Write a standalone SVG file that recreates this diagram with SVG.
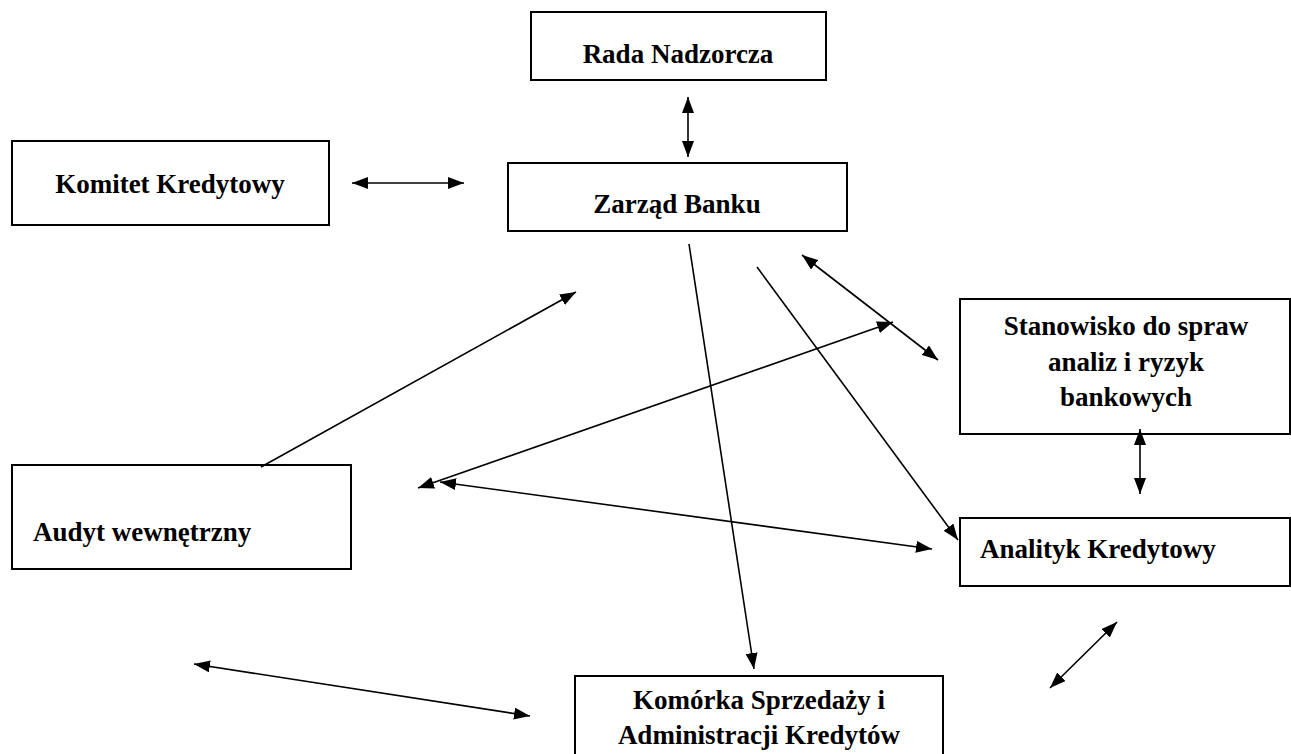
<svg xmlns="http://www.w3.org/2000/svg" width="1291" height="754" viewBox="0 0 1291 754">
<style>
.box{fill:#fff;stroke:#000;stroke-width:2}
.t{font-family:"Liberation Serif","Times New Roman",serif;font-weight:bold;font-size:27px;fill:#000}
.c{text-anchor:middle}
.ln{stroke:#000;stroke-width:1.6;fill:none}
.e{marker-end:url(#ah)}
.b{marker-start:url(#ahs);marker-end:url(#ah)}
</style>
<defs>
<marker id="ah" viewBox="0 0 16 12" refX="16" refY="6" markerWidth="16" markerHeight="12" markerUnits="userSpaceOnUse" orient="auto">
<path d="M0,0 L16,6 L0,12 z" fill="#000"/>
</marker>
<marker id="ahs" viewBox="0 0 16 12" refX="0" refY="6" markerWidth="16" markerHeight="12" markerUnits="userSpaceOnUse" orient="auto">
<path d="M16,0 L0,6 L16,12 z" fill="#000"/>
</marker>
</defs>
<rect width="1291" height="754" fill="#fff"/>
<g id="rada">
<rect class="box" x="531" y="12" width="295" height="68"/>
<text class="t c" x="678" y="63">Rada Nadzorcza</text>
</g>
<g id="komitet">
<rect class="box" x="12" y="141" width="317" height="84"/>
<text class="t c" x="170" y="193">Komitet Kredytowy</text>
</g>
<g id="zarzad">
<rect class="box" x="508" y="163" width="339" height="68"/>
<text class="t c" x="677" y="213">Zarząd Banku</text>
</g>
<g id="stanowisko">
<rect class="box" x="960" y="299" width="330" height="135"/>
<text class="t c" x="1126" y="335">Stanowisko do spraw</text>
<text class="t c" x="1126" y="371">analiz i ryzyk</text>
<text class="t c" x="1126" y="406">bankowych</text>
</g>
<g id="audyt">
<rect class="box" x="12" y="465" width="339" height="104"/>
<text class="t" x="33" y="541">Audyt wewnętrzny</text>
</g>
<g id="analityk">
<rect class="box" x="960" y="518" width="330" height="68"/>
<text class="t" x="980" y="558">Analityk Kredytowy</text>
</g>
<g id="komorka">
<rect class="box" x="575" y="676" width="368" height="100"/>
<text class="t c" x="759" y="709">Komórka Sprzedaży i</text>
<text class="t c" x="759" y="744">Administracji Kredytów</text>
</g>
<g id="connectors">
<line class="ln b" x1="688" y1="97" x2="688" y2="157"/>
<line class="ln b" x1="352" y1="183" x2="464" y2="183"/>
<line class="ln e" x1="261" y1="467" x2="576" y2="292"/>
<line class="ln e" x1="689" y1="244" x2="754" y2="669"/>
<line class="ln e" x1="757" y1="267" x2="958" y2="540"/>
<line class="ln b" x1="802" y1="255" x2="938" y2="360"/>
<line class="ln b" x1="418" y1="488" x2="893" y2="322"/>
<line class="ln b" x1="440" y1="482" x2="932" y2="549"/>
<line class="ln b" x1="194" y1="664" x2="530" y2="716"/>
<line class="ln b" x1="1140" y1="429" x2="1140" y2="494"/>
<line class="ln b" x1="1117" y1="622" x2="1050" y2="688"/>
</g>
</svg>
